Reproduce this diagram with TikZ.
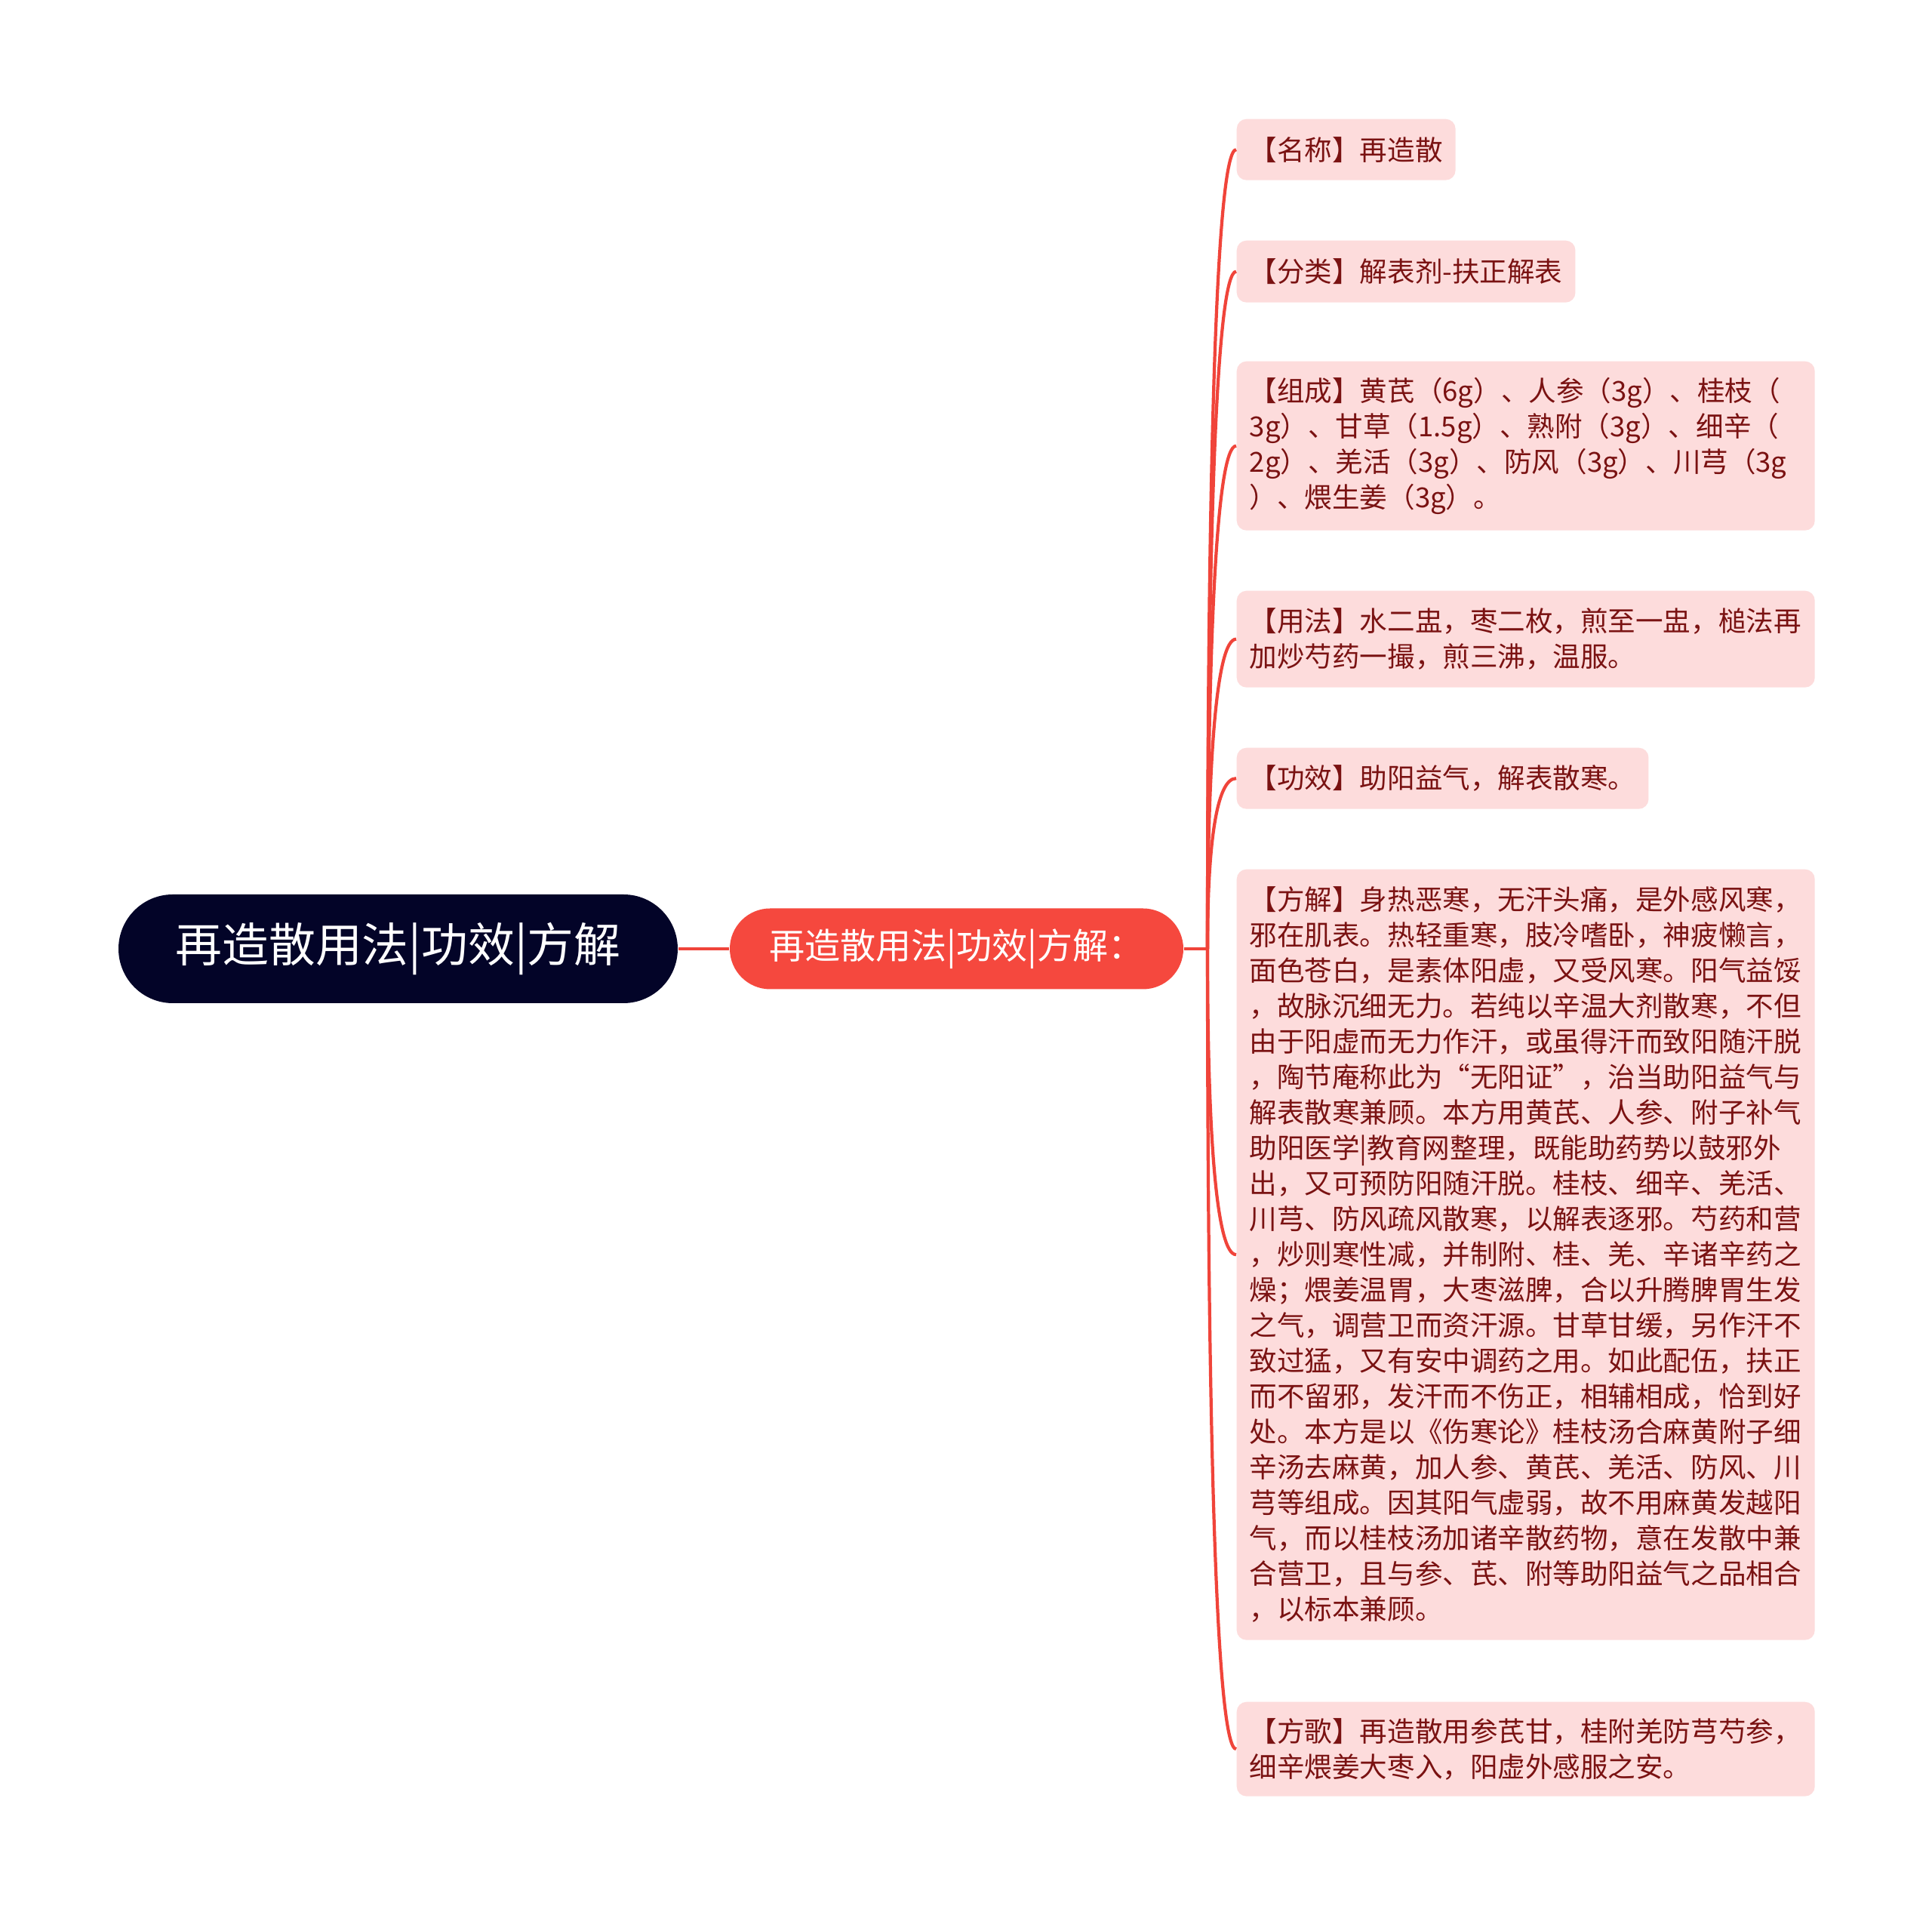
\documentclass[tikz,border=0pt]{standalone}
\usepackage{fontspec}
\newfontfamily\cjkfont{Noto Sans CJK SC}
\usetikzlibrary{calc}
\definecolor{linkred}{RGB}{240,68,58}
\definecolor{pillred}{RGB}{245,72,62}
\definecolor{rootblue}{RGB}{3,4,40}
\definecolor{leafpink}{RGB}{253,220,220}
\definecolor{leaftext}{RGB}{122,18,18}
\tikzset{
  rootnode/.style={fill=rootblue, text=white, rounded corners=0.72cm, minimum width=7.41cm, minimum height=1.44cm, font=\cjkfont\fontsize{17.6pt}{21pt}\selectfont},
  midnode/.style={fill=pillred, text=white, rounded corners=0.535cm, minimum width=6.01cm, minimum height=1.07cm, font=\cjkfont\fontsize{13.4pt}{16pt}\selectfont},
  leaf/.style={fill=leafpink, text=leaftext, rounded corners=0.13cm, anchor=north west, inner xsep=0.17cm, inner ysep=0.1cm, align=left, font=\cjkfont\fontsize{10.4pt}{13.37pt}\selectfont},
  wide/.style={text width=7.32cm},
  link/.style={draw=linkred, line width=1.2pt}
}
\begin{document}
\begin{tikzpicture}
  \useasboundingbox[fill=white] (0,0) rectangle (25.60,25.37);
  \node[rootnode] (root) at (5.275,12.80) {再造散用法|功效|方解};
  \node[midnode] (mid) at (12.675,12.80) {再造散用法|功效|方解：};
  \coordinate (hub) at (16.00,12.80);
  \node[leaf, minimum height=0.81cm] (b1) at (16.38,23.80) {【名称】再造散};
  \node[leaf, minimum height=0.82cm] (b2) at (16.38,22.19) {【分类】解表剂-扶正解表};
  \node[leaf, wide, minimum height=2.24cm] (b3) at (16.38,20.59) {【组成】黄芪（6g）、人参（3g）、桂枝（\\3g）、甘草（1.5g）、熟附（3g）、细辛（\\2g）、羌活（3g）、防风（3g）、川芎（3g\\）、煨生姜（3g）。};
  \node[leaf, wide, minimum height=1.28cm] (b4) at (16.38,17.55) {【用法】水二盅，枣二枚，煎至一盅，槌法再\\加炒芍药一撮，煎三沸，温服。};
  \node[leaf, minimum height=0.81cm] (b5) at (16.38,15.47) {【功效】助阳益气，解表散寒。};
  \node[leaf, wide, minimum height=10.21cm] (b6) at (16.38,13.86) {【方解】身热恶寒，无汗头痛，是外感风寒，\\邪在肌表。热轻重寒，肢冷嗜卧，神疲懒言，\\面色苍白，是素体阳虚，又受风寒。阳气益馁\\，故脉沉细无力。若纯以辛温大剂散寒，不但\\由于阳虚而无力作汗，或虽得汗而致阳随汗脱\\，陶节庵称此为“无阳证”，治当助阳益气与\\解表散寒兼顾。本方用黄芪、人参、附子补气\\助阳医学|教育网整理，既能助药势以鼓邪外\\出，又可预防阳随汗脱。桂枝、细辛、羌活、\\川芎、防风疏风散寒，以解表逐邪。芍药和营\\，炒则寒性减，并制附、桂、羌、辛诸辛药之\\燥；煨姜温胃，大枣滋脾，合以升腾脾胃生发\\之气，调营卫而资汗源。甘草甘缓，另作汗不\\致过猛，又有安中调药之用。如此配伍，扶正\\而不留邪，发汗而不伤正，相辅相成，恰到好\\处。本方是以《伤寒论》桂枝汤合麻黄附子细\\辛汤去麻黄，加人参、黄芪、羌活、防风、川\\芎等组成。因其阳气虚弱，故不用麻黄发越阳\\气，而以桂枝汤加诸辛散药物，意在发散中兼\\合营卫，且与参、芪、附等助阳益气之品相合\\，以标本兼顾。};
  \node[leaf, wide, minimum height=1.25cm] (b7) at (16.38,2.83) {【方歌】再造散用参芪甘，桂附羌防芎芍参，\\细辛煨姜大枣入，阳虚外感服之安。};
  \draw[link] (root.east) -- (mid.west);
  \draw[link] (mid.east) -- (hub);
  \draw[link] (hub) .. controls ($(hub)!0.6!(hub |- b1.west)$) and ($(hub |- b1.west)!0.3!(b1.west)$) .. (b1.west);
  \draw[link] (hub) .. controls ($(hub)!0.6!(hub |- b2.west)$) and ($(hub |- b2.west)!0.3!(b2.west)$) .. (b2.west);
  \draw[link] (hub) .. controls ($(hub)!0.6!(hub |- b3.west)$) and ($(hub |- b3.west)!0.3!(b3.west)$) .. (b3.west);
  \draw[link] (hub) .. controls ($(hub)!0.6!(hub |- b4.west)$) and ($(hub |- b4.west)!0.3!(b4.west)$) .. (b4.west);
  \draw[link] (hub) .. controls ($(hub)!0.6!(hub |- b5.west)$) and ($(hub |- b5.west)!0.3!(b5.west)$) .. (b5.west);
  \draw[link] (hub) .. controls ($(hub)!0.6!(hub |- b6.west)$) and ($(hub |- b6.west)!0.3!(b6.west)$) .. (b6.west);
  \draw[link] (hub) .. controls ($(hub)!0.6!(hub |- b7.west)$) and ($(hub |- b7.west)!0.3!(b7.west)$) .. (b7.west);
\end{tikzpicture}
\end{document}
